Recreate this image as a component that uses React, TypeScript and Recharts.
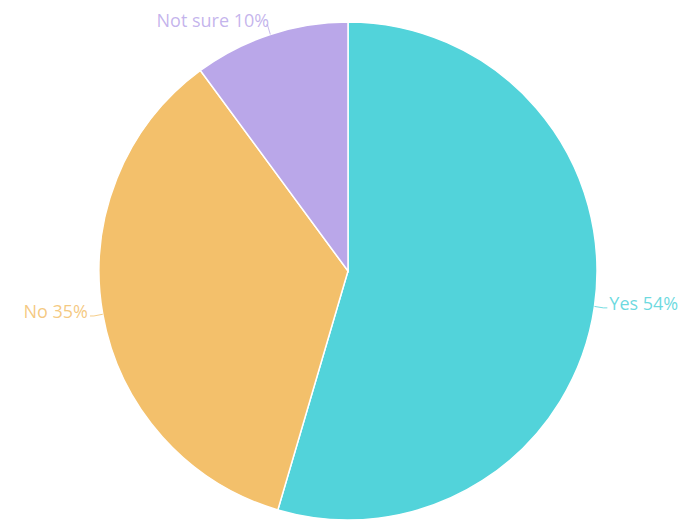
import { PieChart, Pie, Cell } from 'recharts'

const categories = ['Yes', 'No', 'Not sure']
const shares = [54, 35, 10]
const colors = ['#52d3da', '#f3c06b', '#baa7e9']

const data = categories.map((name, i) => ({ name, value: shares[i] }))

const RAD = Math.PI / 180

const SliceLabel = ({ cx, cy, midAngle, outerRadius, index }: any) => {
  const cos = Math.cos(-midAngle * RAD)
  const sin = Math.sin(-midAngle * RAD)
  const sx = cx + outerRadius * cos
  const sy = cy + outerRadius * sin
  const mx = cx + (outerRadius + 9) * cos
  const my = cy + (outerRadius + 10) * sin
  const right = cos >= 0
  const ex = mx + 4 * cos
  const ey = my
  const c = colors[index]
  return (
    <g>
      <path d={`M${sx},${sy}L${mx},${my}L${ex},${ey}`} stroke={c} strokeOpacity={0.8} fill="none" strokeWidth={1} />
      <text x={ex + (Math.abs(cos) > 0.5 ? 2 * cos : 3)} y={ey - 5} textAnchor={right ? 'start' : 'end'} dominantBaseline="central"
        fill={c} fillOpacity={0.85} fontSize={18} fontFamily="'Open Sans', sans-serif">
        {`${categories[index]} ${shares[index]}%`}
      </text>
    </g>
  )
}

export default function App() {
  return (
    <div style={{ position: 'fixed', left: 0, top: 0, background: '#fff' }}>
      <PieChart width={684} height={520} margin={{ top: 0, right: 0, bottom: 0, left: 0 }}>
        <Pie data={data} dataKey="value" nameKey="name" cx={348} cy={271} outerRadius={249}
          startAngle={90} endAngle={-270} stroke="#ffffff" strokeWidth={1.5}
          label={<SliceLabel />} labelLine={false} isAnimationActive={false}>
          {data.map((d, i) => <Cell key={d.name} fill={colors[i]} />)}
        </Pie>
      </PieChart>
    </div>
  )
}
